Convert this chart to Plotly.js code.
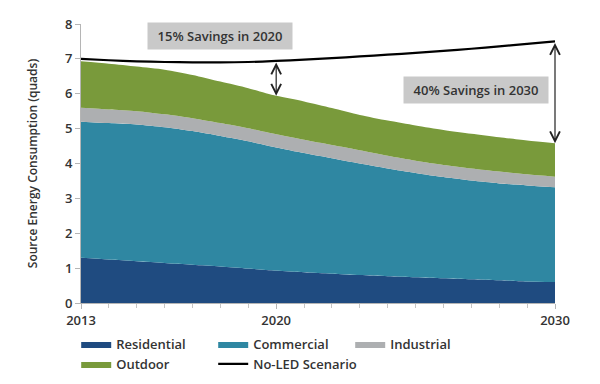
<!DOCTYPE html>
<html>
<head>
<meta charset="utf-8">
<script src="https://cdn.plot.ly/plotly-3.0.1.min.js"></script>
<style>html,body{margin:0;padding:0;background:#fff;}#chart{width:600px;height:384px;}</style>
</head>
<body>
<div id="chart"></div>
<script>
var years = [2013,2014,2015,2016,2017,2018,2019,2020,2021,2022,2023,2024,2025,2026,2027,2028,2029,2030];
var residential = [1.30,1.25,1.20,1.15,1.10,1.05,0.99,0.93,0.88,0.84,0.80,0.77,0.74,0.71,0.68,0.65,0.62,0.60];
var commercial  = [3.90,3.91,3.92,3.89,3.83,3.74,3.65,3.53,3.42,3.31,3.20,3.09,2.99,2.90,2.83,2.78,2.75,2.72];
var industrial  = [0.40,0.39,0.38,0.37,0.37,0.37,0.37,0.38,0.38,0.38,0.38,0.36,0.35,0.35,0.35,0.34,0.32,0.30];
var outdoor     = [1.33,1.31,1.28,1.28,1.24,1.19,1.15,1.10,1.10,1.06,1.01,1.01,1.01,1.00,0.99,0.98,0.97,0.96];
var noLED       = [7.00,6.96,6.93,6.91,6.90,6.90,6.91,6.94,6.98,7.02,7.07,7.12,7.17,7.23,7.29,7.36,7.43,7.50];
var xTickVals = [2013,2020,2030];
var yTickVals = [0,1,2,3,4,5,6,7,8];
var savingsLabels = ["15% Savings in 2020","40% Savings in 2030"];

function sum(arrs, i){ var s=0; arrs.forEach(function(a){ s+=a[i]; }); return s; }
var iy2020 = years.indexOf(2020), iy2030 = years.indexOf(2030);
var total2020 = sum([residential,commercial,industrial,outdoor], iy2020);
var total2030 = sum([residential,commercial,industrial,outdoor], iy2030);

function area(name, y, color){
  return {x: years, y: y, name: name, type:'scatter', mode:'lines', stackgroup:'one',
    line:{width:0, color:color, shape:'spline', smoothing:0.7}, fillcolor: color};
}
var traces = [
  area('Residential', residential, '#1f4b80'),
  area('Commercial', commercial, '#2f87a2'),
  area('Industrial', industrial, '#adafb1'),
  area('Outdoor', outdoor, '#799a3b'),
  {x: years, y: noLED, name:'No-LED Scenario', type:'scatter', mode:'lines',
   line:{color:'#000', width:2.2, shape:'spline', smoothing:0.7}}
];

var fontFam = '"Open Sans", "DejaVu Sans", sans-serif';
var layout = {
  width:600, height:384,
  margin:{l:81, r:45, t:24, b:81},
  paper_bgcolor:'#fff', plot_bgcolor:'#fff',
  font:{family:fontFam, color:'#333', size:12},
  showlegend:true,
  legend:{orientation:'h', xref:'container', yref:'container', x:0.127, xanchor:'left', y:0.143, yanchor:'top',
    entrywidth:92, entrywidthmode:'pixels', traceorder:'normal',
    font:{family:fontFam, size:13, color:'#333', weight:600}, itemwidth:30, tracegroupgap:0},
  xaxis:{range:[2013,2030], tickvals:xTickVals, ticktext:xTickVals.map(String),
    showgrid:false, zeroline:false, showline:true, linecolor:'#b5b5b5', linewidth:1,
    ticks:'outside', ticklen:5, tickcolor:'#b5b5b5',
    minor:{dtick:1, tick0:2013, ticks:'outside', ticklen:4, tickcolor:'#c5c5c5', showgrid:false},
    tickfont:{family:fontFam, size:13, color:'#333', weight:600}},
  yaxis:{range:[0,8], tickvals:yTickVals, showgrid:false, zeroline:false,
    showline:true, linecolor:'#b5b5b5', linewidth:1, ticks:'outside', ticklen:5, tickcolor:'#b5b5b5',
    tickfont:{family:fontFam, size:13, color:'#333', weight:600},
    title:{text:'Source Energy Consumption (quads)', standoff:24,
      font:{family:fontFam, size:12, color:'#333', weight:600}}},
  annotations:[
    {xref:'x', yref:'y', x:2018.0, y:7.65, text:savingsLabels[0], showarrow:false,
     bgcolor:'#c9c9c9', width:142, height:24, font:{family:fontFam, size:13, color:'#333', weight:600}},
    {xref:'x', yref:'y', x:2027.15, y:6.1, text:savingsLabels[1], showarrow:false,
     bgcolor:'#c9c9c9', width:142, height:24, font:{family:fontFam, size:13, color:'#333', weight:600}},
    {xref:'x', yref:'y', x:2020, y:total2020, axref:'x', ayref:'y', ax:2020, ay:noLED[iy2020],
     text:'', showarrow:true, arrowhead:5, startarrowhead:5, arrowside:'end+start',
     arrowsize:1.6, startarrowsize:1.6, arrowwidth:1.2, arrowcolor:'#222', standoff:0, startstandoff:0},
    {xref:'x', yref:'y', x:2030, y:total2030, axref:'x', ayref:'y', ax:2030, ay:noLED[iy2030],
     text:'', showarrow:true, arrowhead:5, startarrowhead:5, arrowside:'end+start',
     arrowsize:1.6, startarrowsize:1.6, arrowwidth:1.2, arrowcolor:'#222', standoff:0, startstandoff:0}
  ]
};
Plotly.newPlot('chart', traces, layout, {staticPlot:true, displayModeBar:false});
</script>
</body>
</html>
